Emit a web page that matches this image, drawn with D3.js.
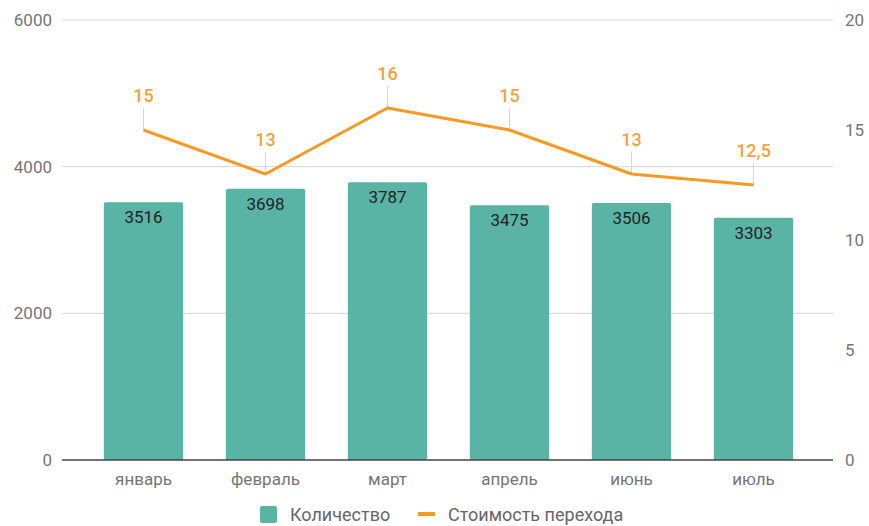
<!DOCTYPE html>
<html>
<head>
<meta charset="utf-8">
<script src="https://cdn.jsdelivr.net/npm/d3@7/dist/d3.min.js"></script>
<style>
  html, body { margin: 0; padding: 0; background: #fff; }
  svg { display: block; font-family: Roboto, "Noto Sans", sans-serif; }
</style>
</head>
<body>
<svg id="chart" width="869" height="526"></svg>
<script>
// Monthly counts (bars, left axis) and cost per click (line, right axis)
const months = ["январь", "февраль", "март", "апрель", "июнь", "июль"];
const counts = [3516, 3698, 3787, 3475, 3506, 3303];
const costs = [15, 13, 16, 15, 13, 12.5];
const leftTicks = [0, 2000, 4000, 6000];
const rightTicks = [0, 5, 10, 15, 20];
const seriesNames = ["Количество", "Стоимость перехода"];

const barColor = "#5ab4a6";
const lineColor = "#f79a23";
const labelOrange = "#f5a23a";
const axisText = "#757575";

const svg = d3.select("#chart");
const gridLeft = 62, gridRight = 833;
const plotTop = 20, plotBottom = 460;

const x = d3.scaleBand().domain(months).range([82.5, 814.5]).paddingInner(0.35).paddingOuter(0.175);
const yL = d3.scaleLinear().domain([0, 6000]).range([plotBottom, plotTop]);
const yR = d3.scaleLinear().domain([0, 20]).range([plotBottom, plotTop]);

// Horizontal gridlines
svg.append("g").selectAll("line").data(leftTicks.filter(d => d !== 0)).join("line")
  .attr("x1", gridLeft).attr("x2", gridRight)
  .attr("y1", d => yL(d)).attr("y2", d => yL(d))
  .attr("stroke", "#d6d6d6").attr("stroke-width", 1);

// Left axis
const axL = svg.append("g").attr("transform", `translate(${gridLeft},0)`)
  .call(d3.axisLeft(yL).tickValues(leftTicks).tickSize(0).tickPadding(10).tickFormat(d3.format("d")));
axL.select(".domain").remove();
axL.selectAll("text").attr("fill", axisText).style("font-size", "17px").style("font-family", "Roboto");

// Right axis
const axR = svg.append("g").attr("transform", `translate(${gridRight},0)`)
  .call(d3.axisRight(yR).tickValues(rightTicks).tickSize(0).tickPadding(12).tickFormat(d3.format("d")));
axR.select(".domain").remove();
axR.selectAll("text").attr("fill", axisText).style("font-size", "17px").style("font-family", "Roboto");

// Bars
svg.append("g").selectAll("path").data(months).join("path")
  .attr("fill", barColor)
  .attr("d", (m, i) => {
    const x0 = x(m), w = x.bandwidth(), y0 = yL(counts[i]), r = 2;
    return `M${x0},${plotBottom}V${y0 + r}Q${x0},${y0} ${x0 + r},${y0}H${x0 + w - r}Q${x0 + w},${y0} ${x0 + w},${y0 + r}V${plotBottom}Z`;
  });

// Bar value labels
svg.append("g").selectAll("text").data(months).join("text")
  .attr("x", m => x(m) + x.bandwidth() / 2)
  .attr("y", (m, i) => yL(counts[i]) + 21)
  .attr("text-anchor", "middle")
  .attr("fill", "#222")
  .style("font-size", "17px")
  .text((m, i) => counts[i]);

// Baseline
svg.append("line")
  .attr("x1", gridLeft).attr("x2", gridRight)
  .attr("y1", yL(0)).attr("y2", yL(0))
  .attr("stroke", "#444").attr("stroke-width", 1.5);

// Month labels
svg.append("g").selectAll("text").data(months).join("text")
  .attr("x", m => x(m) + x.bandwidth() / 2)
  .attr("y", plotBottom + 25)
  .attr("text-anchor", "middle")
  .attr("fill", axisText)
  .style("font-size", "17px")
  .text(m => m);

// Leader lines from line points to their labels
const cx = m => x(m) + x.bandwidth() / 2;
svg.append("g").selectAll("line").data(months).join("line")
  .attr("x1", cx).attr("x2", cx)
  .attr("y1", (m, i) => yR(costs[i]) - 22).attr("y2", (m, i) => yR(costs[i]))
  .attr("stroke", "#d6d6d6").attr("stroke-width", 1);

// Cost line
svg.append("path")
  .datum(months)
  .attr("fill", "none")
  .attr("stroke", lineColor)
  .attr("stroke-width", 3)
  .attr("stroke-linejoin", "round")
  .attr("d", d3.line().x(cx).y((m, i) => yR(costs[i])));

// Cost labels
const fmtCost = v => String(v).replace(".", ",");
svg.append("g").selectAll("text").data(months).join("text")
  .attr("x", cx)
  .attr("y", (m, i) => yR(costs[i]) - 28)
  .attr("text-anchor", "middle")
  .attr("fill", labelOrange)
  .style("font-size", "18px")
  .style("font-weight", "500")
  .text((m, i) => fmtCost(costs[i]));

// Legend
const lg = svg.append("g");
lg.append("rect").attr("x", 260).attr("y", 506).attr("width", 17).attr("height", 17).attr("rx", 2).attr("fill", barColor);
lg.append("text").attr("x", 290).attr("y", 521).attr("fill", "#666").style("font-size", "18px").text(seriesNames[0]);
lg.append("rect").attr("x", 418).attr("y", 512).attr("width", 17).attr("height", 4).attr("fill", lineColor);
lg.append("text").attr("x", 448).attr("y", 521).attr("fill", "#666").style("font-size", "18px").text(seriesNames[1]);
</script>
</body>
</html>
